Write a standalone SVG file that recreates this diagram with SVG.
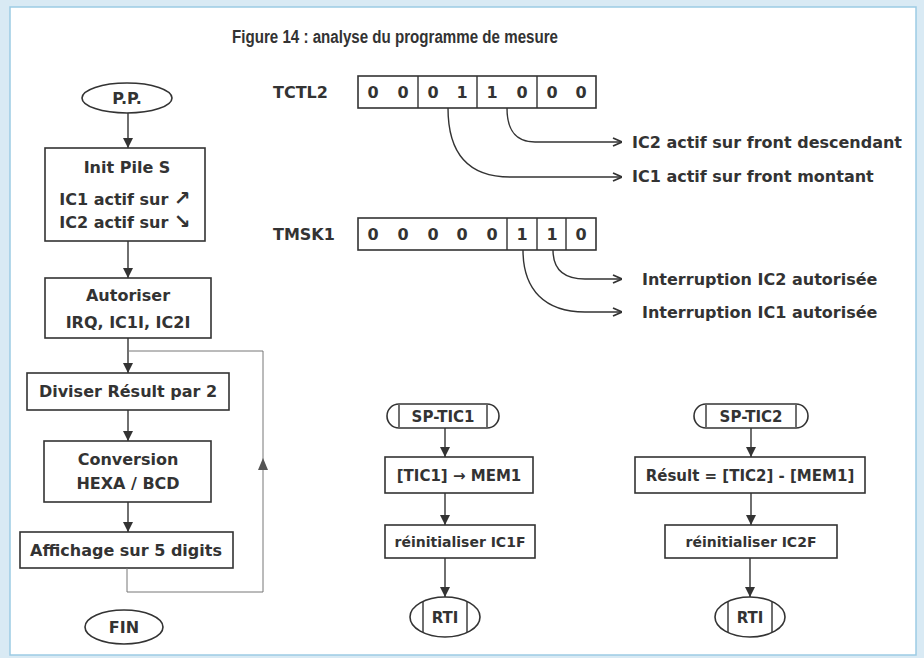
<svg xmlns="http://www.w3.org/2000/svg" width="924" height="658" viewBox="0 0 924 658">
<defs>
<style>
.t{font-family:"DejaVu Sans","Liberation Sans",sans-serif;font-weight:bold;font-size:16px;fill:#333;text-anchor:middle}
.l{text-anchor:start}
.b{fill:#fff;stroke:#333;stroke-width:1.6}
.c{fill:none;stroke:#333;stroke-width:1.4}
.g{fill:none;stroke:#777;stroke-width:1}
</style>
<marker id="ah" viewBox="0 0 10 10" refX="10" refY="5" markerWidth="10" markerHeight="10" markerUnits="userSpaceOnUse" orient="auto"><path d="M0,0 L10,5 L0,10 z" fill="#333"/></marker>
<marker id="oa" viewBox="0 0 10 10" refX="10" refY="5" markerWidth="10" markerHeight="10" markerUnits="userSpaceOnUse" orient="auto"><path d="M1,1 L10,5 L1,9" fill="none" stroke="#333" stroke-width="1.8"/></marker>
</defs>
<rect x="0" y="0" width="924" height="658" fill="#d9eaf4"/>
<rect x="10" y="7" width="906" height="648" fill="#fff" stroke="#9ccbe4" stroke-width="1.5"/>
<text class="t l" x="232" y="43" style="font-family:'Liberation Sans',sans-serif;font-size:18px" textLength="326" lengthAdjust="spacingAndGlyphs">Figure 14 : analyse du programme de mesure</text>

<g id="tctl2">
<text class="t l" x="273" y="98">TCTL2</text>
<rect class="b" x="358" y="76" width="238" height="32"/>
<path class="c" d="M418,76V108M477,76V108M537,76V108"/>
<text class="t" y="98"><tspan x="373">0</tspan><tspan x="403">0</tspan><tspan x="433">0</tspan><tspan x="462">1</tspan><tspan x="492">1</tspan><tspan x="522">0</tspan><tspan x="552">0</tspan><tspan x="581">0</tspan></text>
</g>
<g id="tmsk1">
<text class="t l" x="273" y="240">TMSK1</text>
<rect class="b" x="358" y="218" width="238" height="32"/>
<path class="c" d="M507,218V250M537,218V250M566,218V250"/>
<text class="t" y="240"><tspan x="373">0</tspan><tspan x="403">0</tspan><tspan x="433">0</tspan><tspan x="462">0</tspan><tspan x="492">0</tspan><tspan x="522">1</tspan><tspan x="552">1</tspan><tspan x="581">0</tspan></text>
</g>
<g id="labels">
<text class="t l" x="632" y="148">IC2 actif sur front descendant</text>
<text class="t l" x="632" y="182">IC1 actif sur front montant</text>
<text class="t l" x="642" y="285">Interruption IC2 autorisée</text>
<text class="t l" x="642" y="318">Interruption IC1 autorisée</text>
</g>

<g id="pp"><ellipse class="b" cx="127" cy="98" rx="45" ry="15"/><text class="t" x="127" y="104">P.P.</text></g>
<g id="init"><rect class="b" x="45" y="148" width="160" height="93"/>
<text class="t" x="127" y="173">Init Pile S</text>
<text class="t" x="125" y="205">IC1 actif sur <tspan style="font-size:20px">↗</tspan></text>
<text class="t" x="125" y="228">IC2 actif sur <tspan style="font-size:20px">↘</tspan></text></g>
<g id="autoriser"><rect class="b" x="45" y="278" width="166" height="60"/>
<text class="t" x="128" y="301">Autoriser</text>
<text class="t" x="128" y="328">IRQ, IC1I, IC2I</text></g>
<g id="diviser"><rect class="b" x="27" y="373" width="202" height="37"/><text class="t" x="128" y="397">Diviser Résult par 2</text></g>
<g id="conversion"><rect class="b" x="44" y="441" width="167" height="61"/>
<text class="t" x="128" y="465">Conversion</text>
<text class="t" x="128" y="489">HEXA / BCD</text></g>
<g id="affichage"><rect class="b" x="20" y="532" width="213" height="36"/><text class="t" x="126" y="556">Affichage sur 5 digits</text></g>
<g id="fin"><ellipse class="b" cx="124" cy="627" rx="39" ry="17"/><text class="t" x="124" y="633">FIN</text></g>

<g id="sptic1"><rect class="b" x="387" y="404" width="112" height="24" rx="12"/><path class="c" d="M399,405V427M487,405V427"/><text class="t" x="443" y="422" style="font-size:15px">SP-TIC1</text></g>
<g id="tic1"><rect class="b" x="385" y="457" width="148" height="36"/><text class="t" x="459" y="481" style="font-size:15px">[TIC1] → MEM1</text></g>
<g id="reinit1"><rect class="b" x="385" y="525" width="150" height="33"/><text class="t" x="460" y="547" style="font-size:14px">réinitialiser IC1F</text></g>
<g id="rti1"><ellipse class="b" cx="445" cy="617" rx="35" ry="20"/><path class="c" d="M423,602V632M467,602V632"/><text class="t" x="445" y="623" style="font-size:15px">RTI</text></g>

<g id="sptic2"><rect class="b" x="694" y="404" width="114" height="24" rx="12"/><path class="c" d="M706,405V427M796,405V427"/><text class="t" x="751" y="422" style="font-size:15px">SP-TIC2</text></g>
<g id="result"><rect class="b" x="635" y="457" width="230" height="36"/><text class="t" x="750" y="481" style="font-size:15px">Résult = [TIC2] - [MEM1]</text></g>
<g id="reinit2"><rect class="b" x="665" y="525" width="172" height="33"/><text class="t" x="751" y="547" style="font-size:14px">réinitialiser IC2F</text></g>
<g id="rti2"><ellipse class="b" cx="750" cy="617" rx="35" ry="20"/><path class="c" d="M728,602V632M772,602V632"/><text class="t" x="750" y="623" style="font-size:15px">RTI</text></g>

<g id="connectors">
<path class="c" d="M448,108C448,150 465,177 510,177L622,177" marker-end="url(#oa)"/>
<path class="c" d="M507,108C507,130 515,142 535,142L622,142" marker-end="url(#oa)"/>
<path class="c" d="M523,250C523,290 545,312 585,312L622,312" marker-end="url(#oa)"/>
<path class="c" d="M553,250C553,268 562,279 585,279L622,279" marker-end="url(#oa)"/>
<path class="c" d="M128,113V148" marker-end="url(#ah)"/>
<path class="c" d="M128,241V278" marker-end="url(#ah)"/>
<path class="c" d="M128,338V373" marker-end="url(#ah)"/>
<path class="c" d="M128,410V441" marker-end="url(#ah)"/>
<path class="c" d="M128,502V532" marker-end="url(#ah)"/>
<path class="g" d="M127,568V592H263V351H128"/>
<path d="M263,458L258,470H268Z" fill="#555"/>
<path class="c" d="M445,428V457" marker-end="url(#ah)"/>
<path class="c" d="M445,493V525" marker-end="url(#ah)"/>
<path class="c" d="M445,558V597" marker-end="url(#ah)"/>
<path class="c" d="M751,428V457" marker-end="url(#ah)"/>
<path class="c" d="M751,493V525" marker-end="url(#ah)"/>
<path class="c" d="M750,558V597" marker-end="url(#ah)"/>
</g>
</svg>
